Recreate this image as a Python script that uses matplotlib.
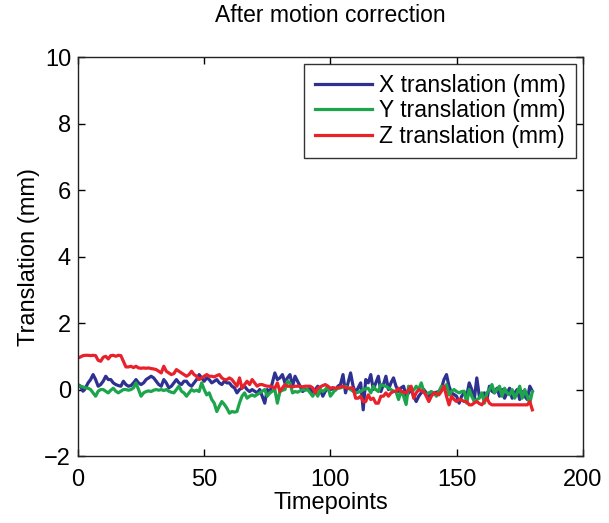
import matplotlib
matplotlib.use("Agg")
import matplotlib.pyplot as plt
import numpy as np

plt.rcParams['font.family'] = ['Liberation Sans', 'DejaVu Sans']

# Translation estimates per timepoint (mm), timepoints 0..180
x_translation = [
    0.15, 0.10, -0.05, 0.05, 0.20, 0.30, 0.45, 0.30, 0.10, 0.15,
    0.25, 0.40, 0.30, 0.30, 0.20, 0.15, 0.12, 0.10, 0.25, 0.15,
    0.10, 0.12, 0.20, 0.30, 0.20, 0.15, 0.20, 0.30, 0.35, 0.40,
    0.35, 0.25, 0.15, 0.10, 0.30, 0.20, 0.05, 0.10, 0.20, 0.30,
    0.20, 0.15, 0.25, 0.25, 0.15, 0.10, 0.20, 0.30, 0.45, 0.35,
    0.25, 0.35, 0.30, 0.20, 0.25, 0.30, 0.20, 0.15, 0.25, 0.20,
    0.20, 0.10, 0.05, -0.10, 0.00, 0.05, 0.10, 0.00, -0.06, 0.00,
    -0.05, -0.10, 0.00, -0.20, -0.41, 0.00, -0.10, 0.20, 0.50, 0.30,
    0.35, 0.45, 0.20, 0.35, 0.45, 0.10, 0.40, 0.25, 0.10, -0.06,
    0.00, 0.00, 0.05, -0.10, 0.00, 0.10, 0.00, -0.20, -0.05, 0.04,
    0.00, 0.02, -0.02, 0.10, 0.15, 0.45, -0.10, 0.20, 0.50, 0.10,
    -0.10, 0.05, 0.20, -0.61, 0.30, 0.20, 0.45, 0.00, 0.20, 0.40,
    -0.06, 0.15, 0.40, 0.00, 0.20, 0.35, 0.10, -0.06, 0.05, 0.10,
    -0.20, -0.10, 0.00, -0.20, -0.36, -0.20, -0.10, 0.00, -0.10, -0.20,
    -0.15, -0.10, -0.08, -0.06, 0.04, 0.30, 0.45, 0.10, -0.10, -0.15,
    -0.20, -0.41, -0.20, -0.10, -0.20, 0.20, 0.00, -0.30, 0.35, -0.20,
    -0.15, -0.10, -0.30, 0.10, -0.05, -0.10, 0.04, -0.20, 0.00, -0.26,
    -0.10, 0.04, -0.26, -0.10, 0.00, -0.30, -0.06, -0.20, -0.30, 0.10,
    -0.05,
]

y_translation = [
    0.12, 0.10, 0.08, 0.05, 0.04, 0.00, -0.10, -0.20, -0.05, 0.00,
    0.00, -0.05, -0.10, -0.02, 0.04, -0.05, -0.10, -0.05, 0.00, 0.00,
    -0.02, 0.00, 0.05, 0.20, 0.00, -0.20, -0.10, -0.06, -0.04, -0.06,
    -0.02, 0.00, -0.02, 0.00, -0.03, 0.00, -0.05, -0.08, -0.10, 0.00,
    0.10, -0.05, -0.10, -0.20, -0.10, 0.00, -0.05, -0.02, -0.06, 0.20,
    0.00, -0.16, -0.10, -0.30, -0.41, -0.66, -0.50, -0.36, -0.45, -0.56,
    -0.71, -0.66, -0.68, -0.66, -0.40, -0.20, -0.10, -0.26, -0.20, -0.16,
    -0.20, -0.15, -0.10, -0.05, 0.00, -0.20, -0.10, -0.05, 0.00, -0.41,
    -0.06, -0.02, 0.00, 0.25, 0.20, -0.10, -0.06, -0.08, -0.04, 0.00,
    -0.02, 0.00, -0.10, -0.20, -0.06, -0.20, 0.00, -0.06, 0.00, 0.10,
    -0.20, -0.10, 0.00, 0.04, 0.05, 0.08, 0.10, 0.05, 0.00, -0.05,
    -0.10, -0.08, -0.06, 0.00, 0.02, 0.04, -0.10, 0.10, 0.00, -0.06,
    0.15, 0.12, 0.10, 0.05, 0.00, -0.05, -0.06, -0.30, -0.05, -0.20,
    -0.45, 0.10, 0.00, -0.02, 0.10, 0.00, 0.20, -0.06, -0.16, -0.10,
    -0.06, -0.10, -0.20, -0.06, 0.10, 0.05, 0.15, -0.16, -0.05, 0.00,
    -0.06, -0.10, -0.06, -0.05, -0.41, 0.00, -0.20, -0.36, -0.30, -0.26,
    -0.10, -0.41, -0.10, 0.00, 0.15, -0.10, 0.00, 0.10, -0.20, 0.04,
    -0.10, -0.16, 0.00, -0.26, -0.10, 0.10, -0.26, 0.00, -0.20, -0.41,
    -0.06,
]

z_translation = [
    0.95, 0.98, 1.02, 1.03, 1.03, 1.02, 1.03, 1.02, 0.88, 0.85,
    0.97, 1.00, 0.92, 1.02, 1.03, 1.00, 1.03, 1.02, 0.85, 0.68,
    0.68, 0.70, 0.66, 0.70, 0.65, 0.64, 0.65, 0.64, 0.65, 0.63,
    0.62, 0.60, 0.55, 0.50, 0.70, 0.55, 0.50, 0.45, 0.48, 0.60,
    0.55, 0.50, 0.45, 0.40, 0.45, 0.55, 0.45, 0.40, 0.30, 0.35,
    0.40, 0.45, 0.40, 0.40, 0.38, 0.42, 0.45, 0.35, 0.30, 0.30,
    0.35, 0.30, 0.20, 0.10, 0.35, 0.04, 0.15, 0.25, 0.15, 0.30,
    0.20, 0.10, 0.15, 0.15, 0.12, 0.10, 0.10, 0.08, 0.04, 0.20,
    -0.06, 0.05, 0.15, 0.10, 0.10, 0.08, 0.10, 0.10, 0.10, 0.08,
    0.10, 0.10, 0.10, 0.05, -0.10, 0.04, 0.08, 0.12, 0.15, 0.10,
    0.04, 0.06, 0.04, 0.05, 0.08, 0.10, 0.06, 0.04, 0.05, 0.04,
    -0.26, -0.26, -0.20, -0.36, -0.36, -0.16, -0.30, -0.26, -0.41, -0.41,
    -0.20, -0.20, -0.10, -0.20, -0.10, -0.06, -0.05, 0.04, -0.05, -0.08,
    -0.10, 0.00, 0.10, -0.26, -0.10, 0.00, -0.04, -0.06, -0.20, -0.36,
    -0.20, -0.10, -0.12, -0.16, -0.05, 0.10, -0.20, -0.46, -0.20, -0.30,
    -0.36, -0.30, -0.32, -0.36, -0.36, -0.46, -0.46, -0.40, -0.36, -0.42,
    -0.46, -0.35, -0.26, -0.41, -0.46, -0.46, -0.46, -0.46, -0.46, -0.46,
    -0.46, -0.46, -0.46, -0.46, -0.46, -0.46, -0.46, -0.46, -0.46, -0.36,
    -0.61,
]

timepoints = np.arange(len(x_translation))

series_labels = ["X translation (mm)", "Y translation (mm)", "Z translation (mm)"]
series_colors = ["#2e3192", "#1ca54b", "#e8212b"]

fig = plt.figure(figsize=(6.09, 5.23), dpi=100)
ax = fig.add_axes([0.128, 0.128, 0.829, 0.763])

for values, label, color in zip([x_translation, y_translation, z_translation],
                                series_labels, series_colors):
    ax.plot(timepoints, values, color=color, lw=2.3, label=label)

ax.set_xlim(0, 200)
ax.set_ylim(-2, 10)
ax.set_xticks([0, 50, 100, 150, 200])
ax.set_yticks([-2, 0, 2, 4, 6, 8, 10])
ax.tick_params(direction="in", top=True, right=True, labelsize=17,
               length=5, width=1.0)
ax.tick_params(axis="x", pad=9)
ax.tick_params(axis="y", pad=5)
for spine in ax.spines.values():
    spine.set_linewidth(1.0)
    spine.set_color("#222222")

ax.set_xlabel("Timepoints", fontsize=17, labelpad=1)
ax.set_ylabel("Translation (mm)", fontsize=17, labelpad=3)
ax.set_title("After motion correction", fontsize=16.5, pad=25)

leg = ax.legend(loc="upper right", fontsize=16.5, frameon=True, fancybox=False,
                handlelength=2.5, handletextpad=0.3, borderpad=0.45,
                labelspacing=0.1, borderaxespad=0.3)
leg.get_frame().set_edgecolor("black")
leg.get_frame().set_linewidth(1.0)

fig.savefig("out.png", dpi=100)
